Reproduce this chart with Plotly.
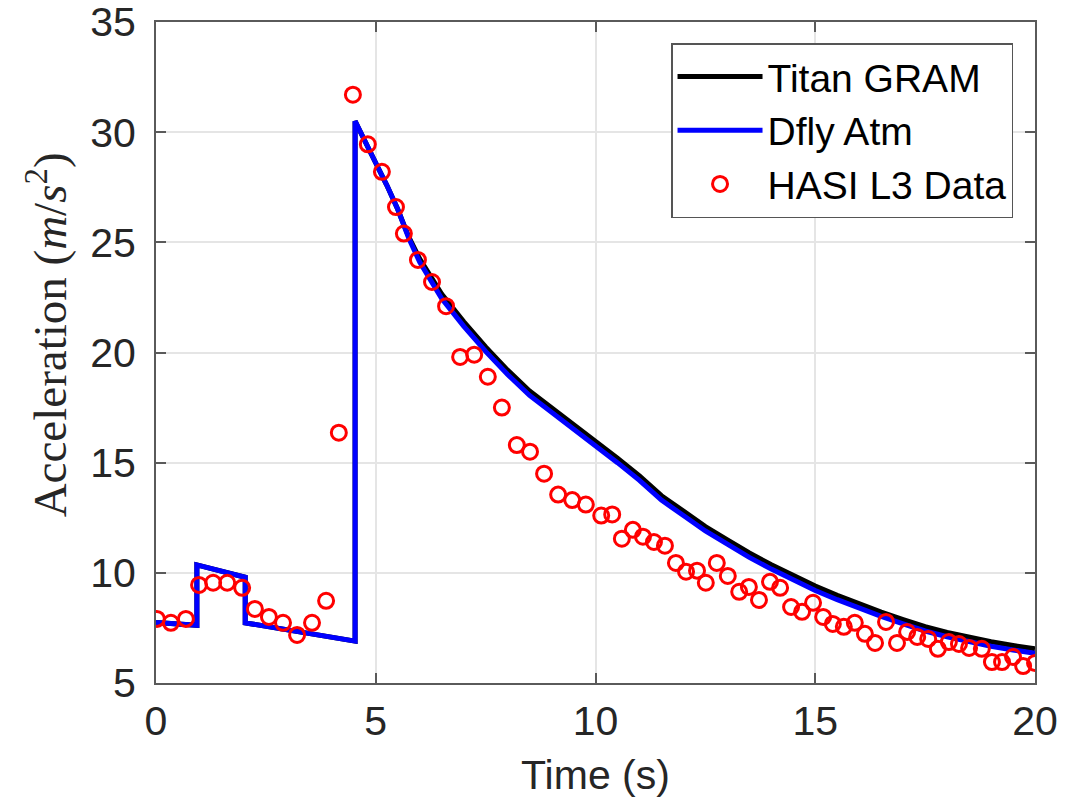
import plotly.graph_objects as go

# Model curves (time in s, acceleration in m/s^2)
model_t = [0.0, 0.93, 0.93, 2.03, 2.03, 4.53, 4.53, 4.8, 5.0, 5.25, 5.5, 5.75, 6.0, 6.5,
           7.0, 7.5, 8.0, 8.5, 9.0, 9.5, 10.0, 10.5, 11.0, 11.5, 12.0, 12.5, 13.0, 13.5,
           14.0, 14.5, 15.0, 15.5, 16.0, 16.5, 17.0, 17.5, 18.0, 18.5, 19.0, 19.5, 20.0]
titan_gram = [7.75, 7.62, 10.36, 9.8, 7.73, 6.9, 30.5, 29.35, 28.6, 27.6, 26.5, 25.25,
              24.25, 22.65, 21.4, 20.25, 19.2, 18.25, 17.5, 16.75, 16.0, 15.2, 14.4,
              13.5, 12.8, 12.1, 11.5, 10.9, 10.37, 9.87, 9.4, 8.98, 8.58, 8.22, 7.88,
              7.56, 7.3, 7.07, 6.87, 6.7, 6.55]
dfly_atm = [7.75, 7.62, 10.36, 9.8, 7.73, 6.9, 30.5, 29.35, 28.6, 27.6, 26.5, 25.2,
            24.1, 22.45, 21.2, 20.05, 19.0, 18.05, 17.3, 16.55, 15.8, 15.0, 14.2, 13.3,
            12.6, 11.9, 11.3, 10.7, 10.17, 9.67, 9.2, 8.78, 8.38, 8.02, 7.68, 7.36, 7.1,
            6.87, 6.67, 6.5, 6.35]

# HASI L3 data points
hasi_t = [0.02, 0.34, 0.68, 0.98, 1.30, 1.62, 1.96, 2.25, 2.57, 2.89, 3.21, 3.55, 3.87,
          4.16, 4.48, 4.82, 5.14, 5.46, 5.64, 5.96, 6.28, 6.6, 6.92, 7.24, 7.55, 7.87,
          8.21, 8.51, 8.83, 9.15, 9.47, 9.78, 10.13, 10.38, 10.6, 10.85, 11.08, 11.33,
          11.58, 11.83, 12.06, 12.31, 12.51, 12.76, 13.01, 13.27, 13.49, 13.72, 13.97,
          14.2, 14.45, 14.7, 14.95, 15.18, 15.4, 15.65, 15.9, 16.13, 16.36, 16.61, 16.86,
          17.09, 17.32, 17.57, 17.79, 18.04, 18.27, 18.5, 18.79, 19.02, 19.25, 19.5,
          19.73, 20.0]
hasi_a = [7.91, 7.73, 7.91, 9.45, 9.55, 9.55, 9.32, 8.36, 8.0, 7.73, 7.18, 7.73, 8.73,
          16.36, 31.7, 29.45, 28.2, 26.6, 25.4, 24.2, 23.2, 22.1, 19.8, 19.9, 18.9, 17.5,
          15.8, 15.5, 14.5, 13.55, 13.3, 13.1, 12.6, 12.65, 11.55, 11.95, 11.64, 11.4,
          11.23, 10.45, 10.05, 10.1, 9.55, 10.45, 9.86, 9.14, 9.36, 8.77, 9.59, 9.32,
          8.45, 8.23, 8.64, 8.0, 7.68, 7.55, 7.73, 7.23, 6.82, 7.77, 6.82, 7.32, 7.09,
          7.0, 6.55, 6.86, 6.77, 6.59, 6.55, 5.95, 5.95, 6.18, 5.77, 5.91]

x_ticks = [0, 5, 10, 15, 20]
y_ticks = [5, 10, 15, 20, 25, 30, 35]

fig = go.Figure()
fig.add_trace(go.Scatter(x=model_t, y=titan_gram, mode="lines", name="Titan GRAM",
                         line=dict(color="black", width=5)))
fig.add_trace(go.Scatter(x=model_t, y=dfly_atm, mode="lines", name="Dfly Atm",
                         line=dict(color="#0000ff", width=5)))
fig.add_trace(go.Scatter(x=hasi_t, y=hasi_a, mode="markers", name="HASI L3 Data",
                         marker=dict(symbol="circle-open", size=15, color="#ff0000",
                                     line=dict(width=3, color="#ff0000"))))

axis_common = dict(
    showline=True, linecolor="#5a5a5a", linewidth=2, mirror="ticks",
    ticks="inside", ticklen=10, tickwidth=2, tickcolor="#5a5a5a",
    showgrid=True, gridcolor="#e5e5e5", gridwidth=1.5, zeroline=False,
    automargin=False, ticklabeloverflow="allow",
    tickfont=dict(family="Liberation Sans, Arial, sans-serif", size=41, color="#262626"),
)

fig.update_layout(
    width=1061, height=790,
    margin=dict(l=148, r=34, t=14, b=115),
    plot_bgcolor="white", paper_bgcolor="white",
    xaxis=dict(range=[0, 20], tickvals=x_ticks, ticklabelstandoff=1,
               title=dict(text="Time (s)", standoff=18,
                          font=dict(family="Liberation Sans, Arial, sans-serif", size=41,
                                    color="#262626")),
               **axis_common),
    yaxis=dict(range=[5, 35], tickvals=y_ticks, ticklabelstandoff=10, **axis_common),
    legend=dict(x=0.975, y=0.968, xanchor="right", yanchor="top",
                bgcolor="white", bordercolor="#555555", borderwidth=1.5,
                font=dict(family="Liberation Sans, Arial, sans-serif", size=39, color="black"),
                tracegroupgap=0, itemwidth=85),
    showlegend=True,
    annotations=[dict(
        text="Acceleration (<i>m</i>/<i>s</i><sup>2</sup>)",
        xref="paper", yref="paper", x=-0.124, y=0.526,
        xanchor="center", yanchor="middle", textangle=-90, showarrow=False,
        font=dict(family="Liberation Serif, Times New Roman, serif", size=47, color="#262626"),
    )],
)

fig.write_html("out.html")
